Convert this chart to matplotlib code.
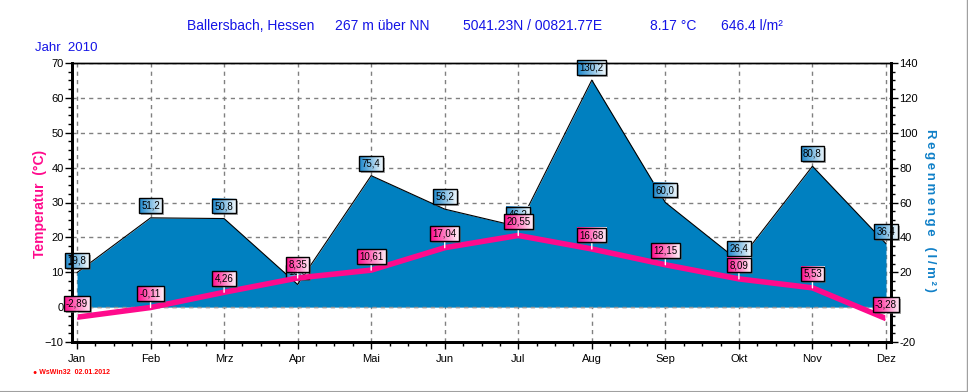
import matplotlib
matplotlib.use("Agg")
import matplotlib.pyplot as plt
import numpy as np
from matplotlib.ticker import MultipleLocator, FixedLocator
from matplotlib.lines import Line2D
from matplotlib.patches import Rectangle
from matplotlib.colors import to_rgb

# data
months = ["Jan", "Feb", "Mrz", "Apr", "Mai", "Jun", "Jul", "Aug", "Sep", "Okt", "Nov", "Dez"]
temperature = [-2.89, -0.11, 4.26, 8.35, 10.61, 17.04, 20.55, 16.68, 12.15, 8.09, 5.53, -3.28]
rain = [19.8, 51.2, 50.8, 13.0, 75.4, 56.2, 46.2, 130.2, 60.0, 26.4, 80.8, 36.4]

station = "Ballersbach, Hessen"
height = "267 m über NN"
coords = "5041.23N / 00821.77E"
mean_temp = "8.17 °C"
total_rain = "646.4 l/m²"
year = "Jahr  2010"
footer = "\u25cf WsWin32  02.01.2012"

plt.rcParams["font.family"] = ["Liberation Sans", "DejaVu Sans"]

W, H = 968, 392
fig = plt.figure(figsize=(W / 100, H / 100), dpi=100)
fig.patch.set_facecolor("white")

ax = fig.add_axes([72 / W, 1 - 342 / H, (891 - 72) / W, (342 - 63) / H])
ax2 = ax.twinx()
ax.set_zorder(ax2.get_zorder() + 1)
ax.patch.set_visible(False)

x = list(range(len(months)))
pad = 5 / 73.5
ax.set_xlim(-pad, len(months) - 1 + pad)
ax.set_ylim(-10, 70)
ax2.set_ylim(-20, 140)

fill_col = "#0080C0"
line_col = "#FF0A8C"
grid_col = "#808080"

# grid (under the rain area)
ax2.yaxis.grid(True, color=grid_col, linestyle=(0, (3, 3)), linewidth=1)
for xi in x:
    ax2.axvline(xi, color=grid_col, linestyle=(0, (3, 3)), linewidth=1, zorder=0.5)
ax2.set_axisbelow(True)

# rain area
ax2.fill_between(x, 0, rain, color=fill_col, zorder=2, linewidth=0)
ax2.plot(x, rain, color="black", linewidth=0.8, zorder=3)
ax2.axhline(0, color="#9a9a9a", linestyle=(0, (3, 3)), linewidth=1, zorder=3)

# temperature line
ax.plot(x, temperature, color=line_col, linewidth=4, solid_capstyle="butt", zorder=3)

labels = []
for xi, v in zip(x, rain):
    t = ax2.annotate(f"{v:.1f}".replace(".", ","), (xi, v), xytext=(0, 9),
                     textcoords="offset points", ha="center", va="center",
                     fontsize=7, zorder=6,
                     bbox=dict(boxstyle="square,pad=0.25", fc="none", ec="black", lw=1))
    labels.append((ax2, t, "#1a86cc", "#f0f8fc"))

for xi, v in zip(x, temperature):
    t = ax.annotate(f"{v:.2f}".replace(".", ","), (xi, v), xytext=(0, 10),
                    textcoords="offset points", ha="center", va="center",
                    fontsize=7, zorder=6,
                    bbox=dict(boxstyle="square,pad=0.25", fc="none", ec="black", lw=1),
                    arrowprops=dict(arrowstyle="-", color="white", lw=1,
                                    shrinkA=0, shrinkB=0))
    labels.append((ax, t, "#ff0a8c", "#fff0f8"))

# axes, ticks
ax.set_xticks(x)
ax.set_xticklabels(months)
ax.xaxis.set_minor_locator(MultipleLocator(0.25))
ax.yaxis.set_major_locator(MultipleLocator(10))
ax.yaxis.set_minor_locator(MultipleLocator(2.5))
ax2.yaxis.set_major_locator(FixedLocator(list(range(-20, 141, 20))))
ax2.set_yticklabels(["" if v == 0 else str(v) for v in range(-20, 141, 20)])
ax2.yaxis.set_minor_locator(MultipleLocator(5))

for a in (ax, ax2):
    a.tick_params(which="major", direction="out", length=5, width=1, labelsize=8, pad=1)
    a.tick_params(which="minor", direction="out", length=3, width=1)
    for s in ("left", "bottom", "right"):
        a.spines[s].set_linewidth(2)
    a.spines["top"].set_linewidth(1)
ax.tick_params(axis="x", pad=4)

# labels
fig.text(40 / W, 1 - 204 / H, "Temperatur  (°C)", rotation=90, ha="center", va="center",
         color=line_col, fontsize=10, fontweight="bold")
fig.text(930 / W, 1 - 210 / H, "\u2009".join("Regenmenge") + "   " + "\u2009".join("(l/m²)"),
         rotation=-90, ha="center", va="center", color="#1080C8", fontsize=9.5,
         fontweight="bold")

title_y = 1 - 26 / H
for px, s in [(187, station), (335, height), (463, coords), (650, mean_temp), (721, total_rain)]:
    fig.text(px / W, title_y, s, ha="left", va="center", color="#1414E6", fontsize=10)
fig.text(35 / W, 1 - 48 / H, year, ha="left", va="center", color="#1414E6", fontsize=9.5)
fig.text(33 / W, 1 - 372 / H, footer, ha="left", va="center", color="#FF0000",
         fontsize=5, fontweight="bold")

# window frame lines
fig.add_artist(Line2D([0, 1], [0.5 / H, 0.5 / H], color="#a0a0a0", lw=1.5))
fig.add_artist(Line2D([1 - 1.5 / W, 1 - 1.5 / W], [0, 1], color="#a0a0a0", lw=1))

# gradient fill + shadow behind the value boxes
fig.canvas.draw()
renderer = fig.canvas.get_renderer()
for a, t, c0, c1 in labels:
    bb = t.get_bbox_patch().get_window_extent(renderer)
    inv = a.transData.inverted()
    (x0, y0), (x1, y1) = inv.transform([(bb.x0, bb.y0), (bb.x1, bb.y1)])
    (sx0, sy0), (sx1, sy1) = inv.transform([(bb.x0 + 2, bb.y0 - 2), (bb.x1 + 2, bb.y1 - 2)])
    a.add_patch(Rectangle((sx0, sy0), sx1 - sx0, sy1 - sy0, facecolor="#606060",
                          alpha=0.55, edgecolor="none", zorder=5.4, clip_on=False))
    g = np.linspace(0, 1, 64)[None, :, None]
    img = np.array(to_rgb(c0))[None, None, :] * (1 - g) + np.array(to_rgb(c1))[None, None, :] * g
    a.imshow(img, extent=(x0, x1, y0, y1), aspect="auto", zorder=5.5,
             interpolation="bilinear", clip_on=False)
ax.set_xlim(-pad, len(months) - 1 + pad)
ax.set_ylim(-10, 70)
ax2.set_ylim(-20, 140)

fig.savefig("out.png", dpi=100)
